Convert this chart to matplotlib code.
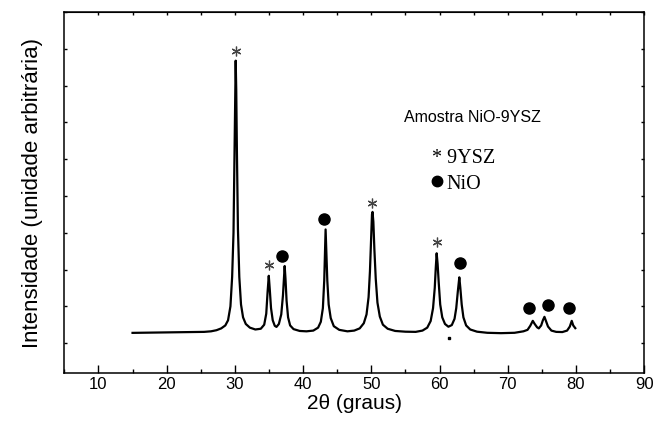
import matplotlib
matplotlib.use("Agg")
import matplotlib.pyplot as plt

plt.rcParams["font.family"] = ["Liberation Sans", "DejaVu Sans"]

# difratograma (2theta em graus, intensidade arbitraria)
two_theta = [15.0, 16.5, 18.0, 20.0, 22.0, 24.0, 25.5, 26.5, 27.3, 28.0,
             28.6, 29.0, 29.35, 29.6, 29.8, 29.95, 30.05, 30.12, 30.2, 30.3,
             30.45, 30.65, 30.9, 31.2, 31.6, 32.2, 33.0, 33.8, 34.3, 34.6,
             34.8, 34.97, 35.12, 35.3, 35.55, 35.85, 36.1, 36.45, 36.8, 37.05,
             37.2, 37.3, 37.42, 37.58, 37.8, 38.1, 38.6, 39.5, 40.5, 41.5,
             42.2, 42.6, 42.9, 43.1, 43.22, 43.3, 43.4, 43.55, 43.75, 44.05,
             44.5, 45.3, 46.5, 47.5, 48.3, 48.9, 49.3, 49.6, 49.8, 49.98,
             50.1, 50.18, 50.3, 50.45, 50.65, 50.9, 51.25, 51.7, 52.4, 53.5,
             55.0, 56.5, 57.5, 58.2, 58.7, 59.05, 59.3, 59.45, 59.58, 59.72,
             59.88, 60.1, 60.4, 60.8, 61.3, 61.8, 62.2, 62.45, 62.68, 62.9,
             63.05, 63.25, 63.5, 63.9, 64.5, 65.5, 67.0, 69.0, 71.0, 72.3,
             72.9, 73.3, 73.67, 73.95, 74.3, 74.55, 74.9, 75.15, 75.38, 75.6,
             75.9, 76.4, 77.1, 78.0, 78.7, 79.1, 79.38, 79.6, 79.9]
intensity = [1278, 1282, 1285, 1290, 1295, 1300, 1305, 1320, 1350, 1400,
             1480, 1620, 2000, 2800, 4000, 6200, 7900, 8680, 7900, 6200,
             4100, 2800, 2050, 1700, 1520, 1420, 1370, 1390, 1500, 1800,
             2400, 2830, 2450, 1950, 1620, 1470, 1440, 1520, 1780, 2300,
             2800, 3096, 2750, 2150, 1700, 1480, 1380, 1330, 1320, 1340,
             1420, 1580, 1950, 2700, 3500, 4090, 3500, 2700, 2050, 1680,
             1460, 1360, 1320, 1340, 1400, 1540, 1780, 2250, 2950, 3900,
             4500, 4567, 4300, 3550, 2750, 2100, 1720, 1500, 1390, 1330,
             1310, 1305, 1340, 1420, 1600, 1950, 2500, 3050, 3442, 3150,
             2650, 2050, 1700, 1520, 1445, 1490, 1660, 1950, 2400, 2788,
             2500, 2050, 1700, 1480, 1370, 1310, 1280, 1270, 1280, 1320,
             1360, 1470, 1605, 1520, 1430, 1400, 1480, 1620, 1714, 1600,
             1450, 1340, 1305, 1300, 1340, 1450, 1605, 1480, 1406]

# marcadores de fase
ysz_x = [30.12, 34.97, 50.15, 59.57]
ysz_y = [8930, 3120, 4810, 3750]
nio_x = [36.98, 43.02, 62.98, 73.08, 75.86, 78.94]
nio_y = [3370, 4380, 3170, 1945, 2025, 1945]

fig = plt.figure(figsize=(6.53, 4.33), dpi=100)
ax = fig.add_axes([0.0985, 0.138, 0.888, 0.834])

ax.plot(two_theta, intensity, color="black", lw=1.6)
ax.plot(ysz_x, ysz_y, ls="none", marker=(6, 2, 0), ms=7, mew=0.9, color="#444444")
ax.plot(nio_x, nio_y, ls="none", marker="o", ms=8, color="black")
ax.plot([61.4], [1150], ls="none", marker="s", ms=2, color="black")

ax.set_xlim(5, 90)
ax.set_ylim(180, 10000)
ax.set_xticks(range(10, 91, 10))
ax.set_xticks(range(5, 91, 5), minor=True)
ax.set_yticks(range(1000, 10001, 1000))
ax.set_yticklabels([])
ax.tick_params(axis="x", which="major", direction="in", length=5.5, width=1,
               labelsize=12, pad=2.5)
ax.tick_params(axis="x", which="minor", direction="in", length=3, width=1)
ax.tick_params(axis="y", direction="in", length=2.5, width=1, right=True)
for sp in ax.spines.values():
    sp.set_linewidth(1.1)

top = ax.secondary_xaxis("top")
top.set_xticks(range(10, 91, 5))
top.set_xticklabels([])
top.tick_params(direction="in", length=2, width=1)

ax.set_xlabel("2θ (graus)", fontsize=15, labelpad=2)
ax.set_ylabel("Intensidade (unidade arbitrária)", fontsize=16, labelpad=12)

serif = ["Liberation Serif", "DejaVu Serif"]
ax.text(0.586, 0.709, "Amostra NiO-9YSZ", transform=ax.transAxes,
        fontsize=11.5, va="center")
ax.text(0.634, 0.596, "* 9YSZ", transform=ax.transAxes, fontsize=14.5,
        family=serif, va="center")
ax.plot([0.643], [0.532], transform=ax.transAxes, marker="o", ms=7.5,
        color="black", clip_on=False)
ax.text(0.659, 0.524, "NiO", transform=ax.transAxes, fontsize=14.5,
        family=serif, va="center")

fig.savefig("out.png", dpi=100)
